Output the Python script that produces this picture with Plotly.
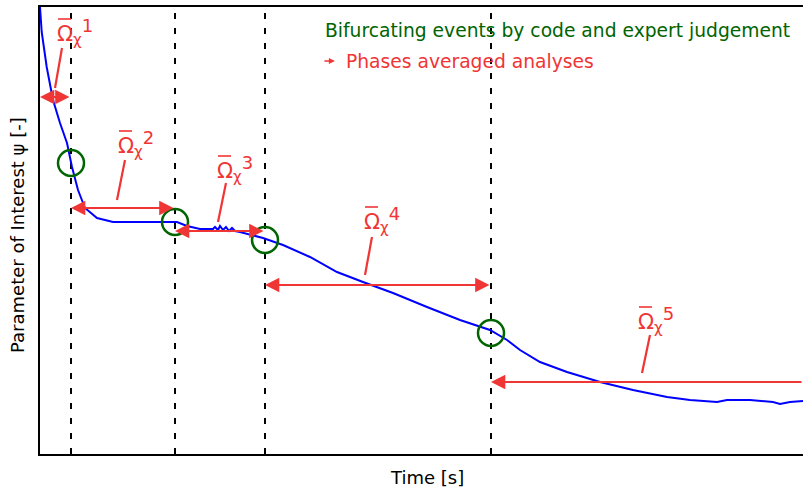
import plotly.graph_objects as go

# Blue curve: time vs parameter of interest (arbitrary units)
time = [0, 1.7, 6.7, 13, 20, 27, 32, 38, 45, 57, 73, 93, 127, 137, 147, 160, 173,
        175, 178, 180, 183, 186, 189, 192, 195, 200, 223, 243, 270, 297, 323, 353,
        387, 420, 450, 467, 480, 500, 527, 560, 593, 627, 650, 677, 687, 710, 733,
        740, 750, 763]
psi = [447, 422, 387, 354, 331, 311, 287, 264, 246, 236, 232, 232, 232, 232, 228,
       225, 225, 227, 224, 228, 224, 227, 223, 226, 223, 222, 216, 209, 197, 182,
       172, 161, 147, 134, 124, 114, 104, 92, 82, 72, 64, 57, 54, 52, 54, 54, 52,
       50, 52, 53]

# Bifurcating events
event_t = [31, 135, 225, 451]
event_psi = [291, 232, 214, 121]

# Phase arrows (start, end, level)
phase_start = [0, 31, 135, 225, 451]
phase_end = [31, 135, 225, 451, 763]
phase_level = [357, 246, 223, 169, 72]
phase_labels = ["1", "2", "3", "4", "5"]
# label anchor: left edge / baseline of the Omega glyph
label_t = [17, 78, 177, 324, 598]
label_psi = [419, 307, 282, 231, 131]
leader_top = [(22, 406), (85, 294), (186, 271), (332, 217), (610, 119)]
leader_bot = [(15, 366), (77, 254), (178, 232), (325, 179), (602, 81)]

RED = "#f03535"
GREEN = "#006400"
FONT = "DejaVu Sans"

fig = go.Figure()
fig.add_trace(go.Scatter(x=time, y=psi, mode="lines",
                         line=dict(color="#0000ff", width=2), hoverinfo="skip"))
fig.add_trace(go.Scatter(x=event_t, y=event_psi, mode="markers",
                         marker=dict(symbol="circle-open", size=26,
                                     line=dict(color=GREEN, width=2.5), color=GREEN),
                         hoverinfo="skip"))

for t in event_t:
    fig.add_shape(type="line", x0=t, x1=t, y0=0, y1=447, xref="x", yref="y",
                  line=dict(color="black", width=2, dash="6px,9px"), layer="below")

for i in range(5):
    double = i < 4
    fig.add_annotation(x=phase_start[i], y=phase_level[i], ax=phase_end[i], ay=phase_level[i],
                       xref="x", yref="y", axref="x", ayref="y", text="",
                       showarrow=True, arrowhead=2, arrowsize=1.3, arrowwidth=2.2,
                       arrowcolor=RED, arrowside="end+start" if double else "end",
                       standoff=0, startstandoff=0)
    fig.add_annotation(x=label_t[i], y=label_psi[i], xref="x", yref="y",
                       xanchor="left", yanchor="middle", yshift=3, xshift=-2,
                       text="Ω<sub><span style='font-size:15px'>χ</span></sub>"
                            "<sup><span style='font-size:18px'>" + phase_labels[i] + "</span></sup>",
                       showarrow=False, font=dict(family=FONT, size=21, color=RED))
    # overbar of Omega
    fig.add_shape(type="line", x0=label_t[i] + 1, x1=label_t[i] + 14,
                  y0=label_psi[i] + 16, y1=label_psi[i] + 16, xref="x", yref="y",
                  line=dict(color=RED, width=1.6))
    fig.add_shape(type="line", x0=leader_top[i][0], y0=leader_top[i][1],
                  x1=leader_bot[i][0], y1=leader_bot[i][1], xref="x", yref="y",
                  line=dict(color=RED, width=2.2))

# Legend-like texts
fig.add_annotation(x=0.371, y=0.9485, xref="paper", yref="paper", xanchor="left",
                   yanchor="middle", text="Bifurcating events by code and expert judgement",
                   showarrow=False, font=dict(family=FONT, size=18.7, color=GREEN))
fig.add_annotation(x=0.3865, y=0.879, ax=-12, ay=0, xref="paper", yref="paper",
                   text="", showarrow=True, arrowhead=2,
                   arrowsize=0.8, arrowwidth=1.5, arrowcolor=RED, standoff=0)
fig.add_annotation(x=0.399, y=0.879, xref="paper", yref="paper", xanchor="left",
                   yanchor="middle", text="Phases averaged analyses",
                   showarrow=False, font=dict(family=FONT, size=18.7, color=RED))

# Axis titles
fig.add_annotation(x=0.5066, y=0, xref="paper", yref="paper", xanchor="center",
                   yanchor="top", yshift=-11, text="Time [s]", showarrow=False,
                   font=dict(family=FONT, size=18, color="black"))
fig.add_annotation(x=0, y=0.49, xref="paper", yref="paper", xanchor="center",
                   yanchor="middle", xshift=-22, textangle=-90,
                   text="Parameter of Interest ψ [-]", showarrow=False,
                   font=dict(family=FONT, size=18, color="black"))

fig.update_layout(
    width=803, height=492,
    margin=dict(l=40, r=0, t=7, b=38),
    paper_bgcolor="white", plot_bgcolor="white",
    showlegend=False,
    font=dict(family=FONT, size=17, color="black"),
    xaxis=dict(range=[0, 763], showgrid=False, zeroline=False, showticklabels=False,
               ticks="", showline=True, linecolor="black", linewidth=1.5, mirror=True,
               automargin=False),
    yaxis=dict(range=[0, 447], showgrid=False, zeroline=False, showticklabels=False,
               ticks="", showline=True, linecolor="black", linewidth=1.5,
               automargin=False),
)

fig.write_html("out.html", default_width="803px", default_height="492px",
               config={"responsive": False, "displayModeBar": False},
               post_script="document.body.style.margin='0';document.body.style.overflow='hidden';")
